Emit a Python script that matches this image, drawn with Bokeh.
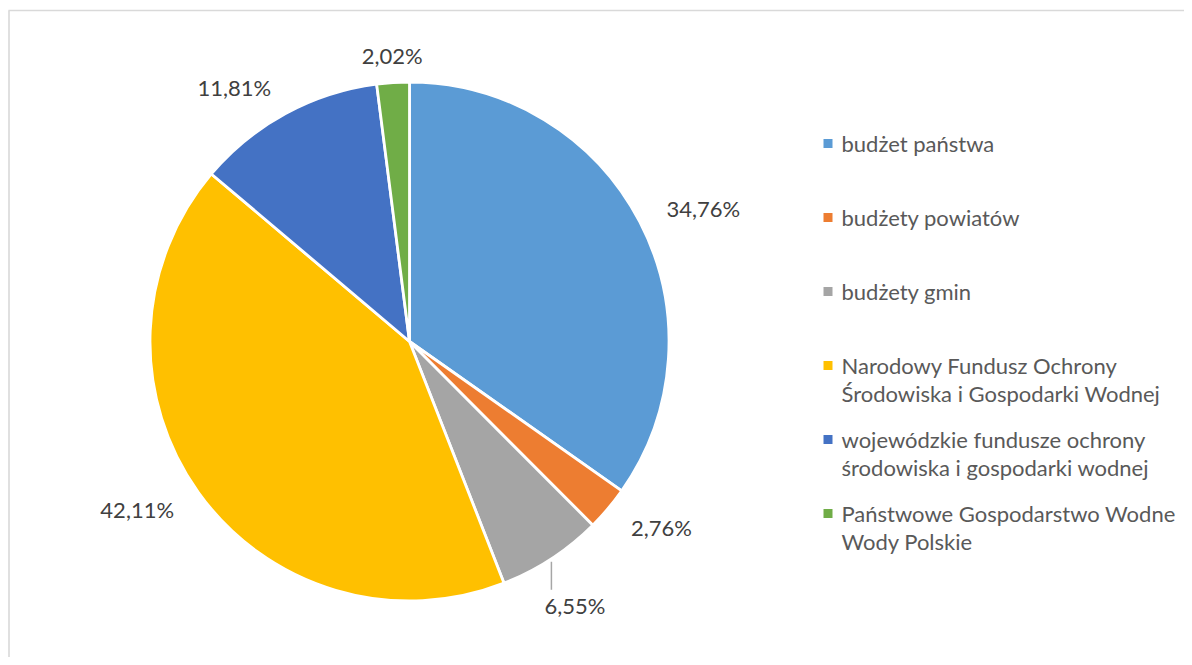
import numpy as np
from bokeh.plotting import figure
from bokeh.models import ColumnDataSource, Range1d
from bokeh.core.properties import value
from bokeh.embed import file_html
from bokeh.resources import INLINE

# ---- data ----
categories = [
    "budżet państwa",
    "budżety powiatów",
    "budżety gmin",
    "Narodowy Fundusz Ochrony\nŚrodowiska i Gospodarki Wodnej",
    "wojewódzkie fundusze ochrony\nśrodowiska i gospodarki wodnej",
    "Państwowe Gospodarstwo Wodne\nWody Polskie",
]
shares = [34.76, 2.76, 6.55, 42.11, 11.81, 2.02]
colors = ["#5B9BD5", "#ED7D31", "#A5A5A5", "#FFC000", "#4472C4", "#70AD47"]
label_with_leader = [False, False, True, False, False, False]

# ---- layout (figure units = pixels) ----
W, H = 1184, 657
CX, CY, R = 409, 316, 259.5
FONT = value("Lato")
FS = "22px"

p = figure(width=W, height=H, output_backend="svg", toolbar_location=None,
           x_range=Range1d(0, W), y_range=Range1d(0, H),
           x_axis_type=None, y_axis_type=None, min_border=0,
           outline_line_color=None, background_fill_color="white",
           border_fill_color="white")
p.grid.visible = False

# border (top + left visible)
p.segment(x0=[8, 8.5], y0=[647, 647], x1=[W, 8.5], y1=[647, 0],
          line_color="#D9D9D9", line_width=1.6)

vals = np.array(shares, dtype=float)
frac = vals / vals.sum()
c1 = np.cumsum(frac)
c0 = c1 - frac
start = np.pi / 2 - 2 * np.pi * c0
end = np.pi / 2 - 2 * np.pi * c1
mid = (start + end) / 2

src = ColumnDataSource(dict(start=start, end=end, color=colors))
p.wedge(x=CX, y=CY, radius=R, start_angle="start", end_angle="end",
        direction="clock", fill_color="color", line_color="white",
        line_width=2.8, source=src)

# ---- data labels ----
for i, v in enumerate(shares):
    txt = f"{v:.2f}".replace(".", ",") + "%"
    dx, dy = np.cos(mid[i]), np.sin(mid[i])
    if label_with_leader[i]:
        ex, ey = CX + R * dx, CY + R * dy
        p.segment(x0=[ex], y0=[ey - 3], x1=[ex], y1=[ey - 31],
                  line_color="#A6A6A6", line_width=1.5)
        p.text(x=[ex - 7], y=[ey - 33], text=[txt], text_font=FONT,
               text_font_size=FS, text_color="#404040",
               text_align="left", text_baseline="top")
        continue
    if dx > 0.3:
        gap, align, base = 30, "left", "middle"
    elif dx < -0.3:
        gap, align, base = 30, "right", "middle"
    else:
        gap, align = 14, "center"
        base = "bottom" if dy > 0 else "top"
    p.text(x=[CX + (R + gap) * dx], y=[CY + (R + gap) * dy], text=[txt],
           text_font=FONT, text_font_size=FS, text_color="#404040",
           text_align=align, text_baseline=base)

# ---- legend ----
LX_MARK, LX_TEXT, LY0, ITEM_STEP, LINE_STEP = 827.5, 841, 514, 74, 28.3
for i, cat in enumerate(categories):
    y = LY0 - ITEM_STEP * i
    p.scatter(x=[LX_MARK], y=[y], marker="square", size=9,
              fill_color=colors[i], line_color=None)
    for k, line in enumerate(cat.split("\n")):
        p.text(x=[LX_TEXT], y=[y - LINE_STEP * k], text=[line],
               text_font=FONT, text_font_size=FS, text_color="#595959",
               text_align="left", text_baseline="middle")

open("out.html", "w").write(file_html(p, INLINE))
